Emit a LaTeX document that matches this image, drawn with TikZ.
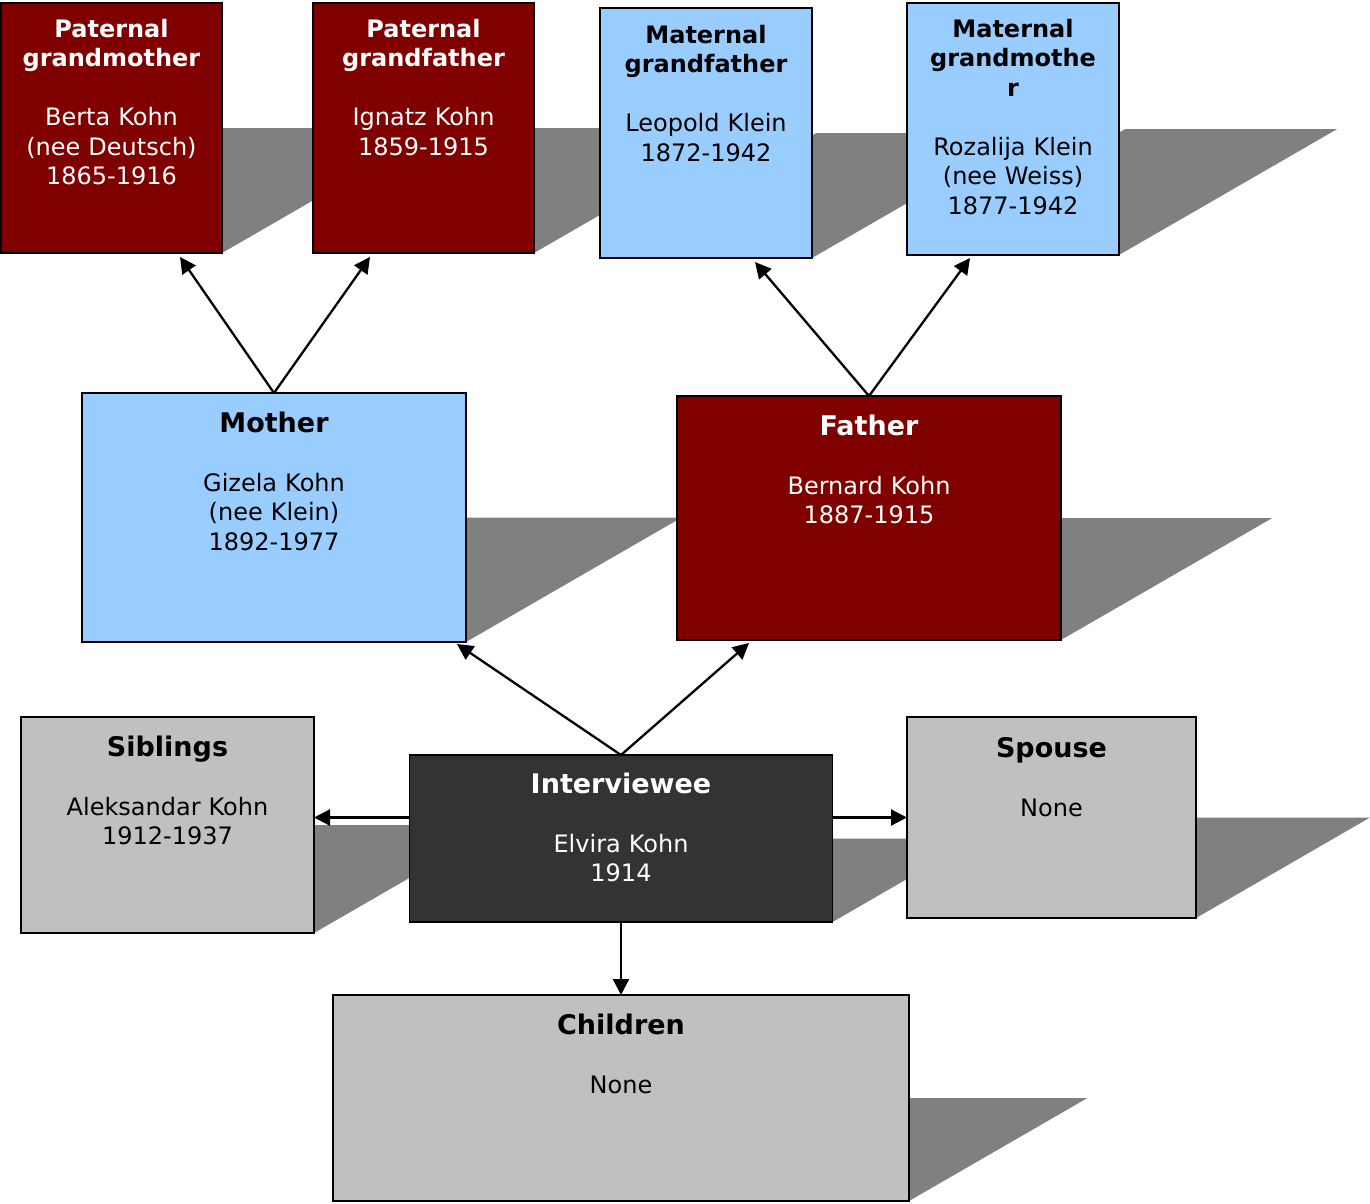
\documentclass[tikz,border=0pt]{standalone}
\usepackage{fontspec}
\setmainfont{DejaVu Sans}
\usetikzlibrary{arrows.meta,calc,backgrounds}
\definecolor{dred}{HTML}{800000}
\definecolor{lblue}{HTML}{99CCFF}
\definecolor{lgray}{HTML}{C0C0C0}
\definecolor{dgray}{HTML}{333333}
\definecolor{shadowc}{HTML}{808080}
\tikzset{
  box/.style={draw=black, line width=1.8pt, rectangle, inner sep=0pt, outer sep=0pt},
  redbox/.style={box, fill=dred},
  bluebox/.style={box, fill=lblue},
  graybox/.style={box, fill=lgray},
  darkbox/.style={box, fill=dgray},
  txt/.style={anchor=base, align=center, inner sep=0pt, font=\fontsize{24}{29.5}\selectfont},
  wtxt/.style={txt, text=white},
  arr/.style={draw=black, line width=2.3pt, -{Triangle[length=16pt,width=16pt]}},
}
\newcommand{\bigtitle}[1]{{\fontsize{27}{29.5}\selectfont\bfseries #1}}
\newcommand{\boxshadow}[1]{%
  \fill[shadowc] let \p1=(#1.south west), \p2=(#1.east), \n1={(\y2-\y1)*1.732} in
    (#1.south west) -- (#1.south east) -- ([xshift=\n1]#1.east) -- ([xshift=\n1]#1.west) -- cycle;}
\begin{document}
\begin{tikzpicture}[x=1pt,y=-1pt]
\useasboundingbox (0,0) rectangle (1370,1203);
% boxes
\node[redbox, minimum width=221pt, minimum height=250pt] (pgm) at (111.5,128) {};
\node[redbox, minimum width=221pt, minimum height=250pt] (pgf) at (423.5,128) {};
\node[bluebox, minimum width=212pt, minimum height=250pt] (mgf) at (706,133) {};
\node[bluebox, minimum width=212pt, minimum height=252pt] (mgm) at (1013,129) {};
\node[bluebox, minimum width=384pt, minimum height=249pt] (mo) at (274,517.5) {};
\node[redbox, minimum width=384pt, minimum height=244pt] (fa) at (869,518) {};
\node[graybox, minimum width=293pt, minimum height=216pt] (sib) at (167.5,825) {};
\node[darkbox, minimum width=423pt, minimum height=167pt] (iv) at (621,838.5) {};
\node[graybox, minimum width=289pt, minimum height=201pt] (sp) at (1051.5,817.5) {};
\node[graybox, minimum width=576pt, minimum height=206pt] (ch) at (621,1098) {};
% shadows
\begin{pgfonlayer}{background}
\boxshadow{pgm}\boxshadow{pgf}\boxshadow{mgf}\boxshadow{mgm}
\boxshadow{mo}\boxshadow{fa}\boxshadow{sib}\boxshadow{iv}\boxshadow{sp}\boxshadow{ch}
\end{pgfonlayer}
% texts
\node[wtxt, text width=221pt] (tpgm) at ([yshift=-34pt]pgm.north) {\textbf{Paternal}\\\textbf{grandmother}\\[29.5pt]Berta Kohn\\(nee Deutsch)\\1865-1916};
\node[wtxt, text width=221pt] (tpgf) at ([yshift=-34pt]pgf.north) {\textbf{Paternal}\\\textbf{grandfather}\\[29.5pt]Ignatz Kohn\\1859-1915};
\node[txt, text width=212pt] (tmgf) at ([yshift=-35pt]mgf.north) {\textbf{Maternal}\\\textbf{grandfather}\\[29.5pt]Leopold Klein\\1872-1942};
\node[txt, text width=212pt] (tmgm) at ([yshift=-34pt]mgm.north) {\textbf{Maternal}\\\textbf{grandmothe}\\\textbf{r}\\[29.5pt]Rozalija Klein\\(nee Weiss)\\1877-1942};
\node[txt, text width=384pt] (tmo) at ([yshift=-39pt]mo.north) {\bigtitle{Mother}\\[29.5pt]Gizela Kohn\\(nee Klein)\\1892-1977};
\node[wtxt, text width=384pt] (tfa) at ([yshift=-39pt]fa.north) {\bigtitle{Father}\\[29.5pt]Bernard Kohn\\1887-1915};
\node[txt, text width=293pt] (tsib) at ([yshift=-39pt]sib.north) {\bigtitle{Siblings}\\[29.5pt]Aleksandar Kohn\\1912-1937};
\node[wtxt, text width=423pt] (tiv) at ([yshift=-38pt]iv.north) {\bigtitle{Interviewee}\\[29.5pt]Elvira Kohn\\1914};
\node[txt, text width=289pt] (tsp) at ([yshift=-40pt]sp.north) {\bigtitle{Spouse}\\[29.5pt]None};
\node[txt, text width=576pt] (tch) at ([yshift=-39pt]ch.north) {\bigtitle{Children}\\[29.5pt]None};
% connectors
\draw[arr] (mo.north) -- ([xshift=68.5pt,yshift=-4pt]pgm.south);
\draw[arr] (mo.north) -- ([xshift=-53.5pt,yshift=-4pt]pgf.south);
\draw[arr] (fa.north) -- ([xshift=49pt,yshift=-4pt]mgf.south);
\draw[arr] (fa.north) -- ([xshift=-43pt,yshift=-3pt]mgm.south);
\draw[arr] (iv.north) -- ([xshift=-9pt,yshift=-2pt]mo.south east);
\draw[arr] (iv.north) -- ([xshift=72pt,yshift=-3pt]fa.south west);
\coordinate (ivL) at (iv.west |- sp.west);
\coordinate (ivR) at (iv.east |- sp.west);
\draw[arr] (ivL) -- (ivL -| sib.east);
\draw[arr] (ivR) -- (sp.west);
\draw[arr] (iv.south) -- (iv.south |- ch.north);
\end{tikzpicture}
\end{document}
